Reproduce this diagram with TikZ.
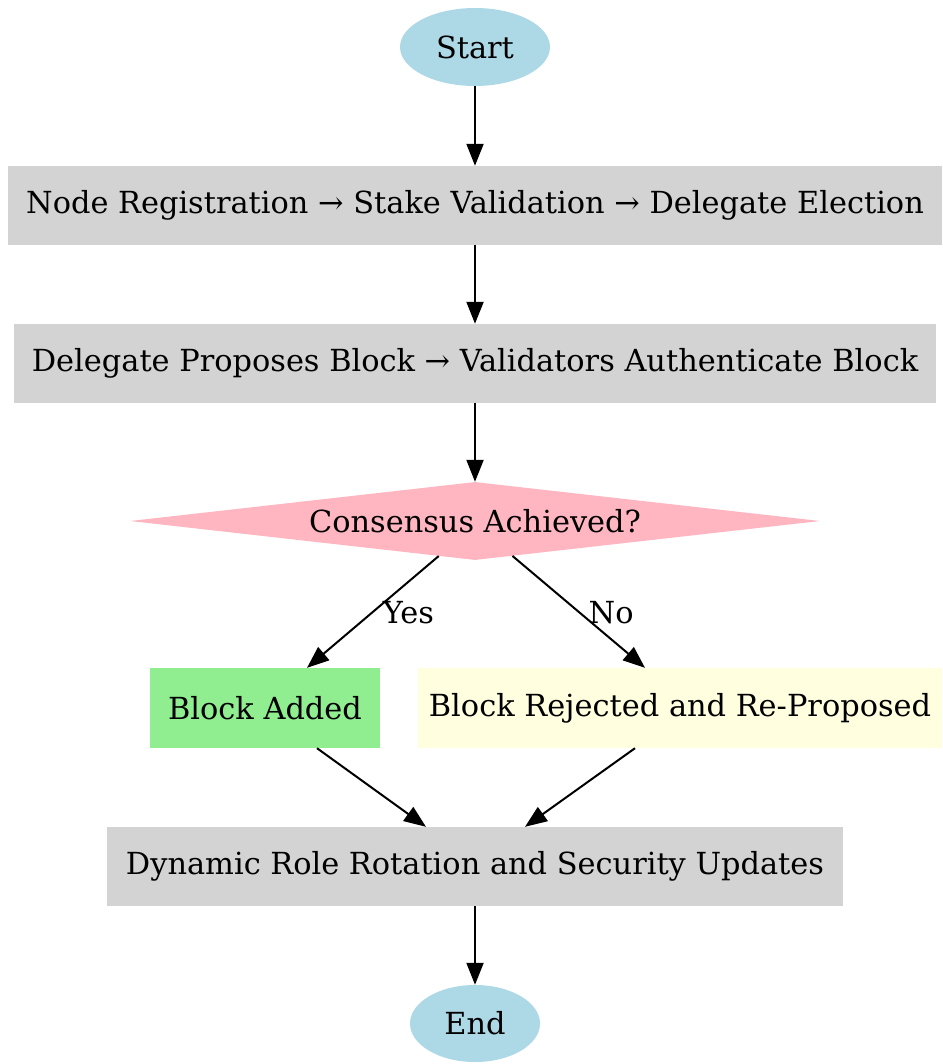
\documentclass[tikz,border=0pt]{standalone}
\usepackage{fontspec}
\setmainfont{DejaVu Serif}
\usetikzlibrary{arrows.meta,shapes.geometric,positioning}

\definecolor{termblue}{RGB}{173,216,230}
\definecolor{procgray}{RGB}{211,211,211}
\definecolor{decpink}{RGB}{255,182,193}
\definecolor{okgreen}{RGB}{144,238,144}
\definecolor{rejyellow}{RGB}{255,255,224}

\begin{document}
\begin{tikzpicture}[x=1pt, y=-1pt,
        every node/.style={font=\fontsize{30.4}{36}\selectfont, inner sep=0pt},
        term/.style={ellipse, fill=termblue},
        proc/.style={rectangle, fill=procgray, minimum height=79pt},
        decision/.style={diamond, fill=decpink, aspect=8.85, minimum width=690pt, minimum height=78pt},
        flow/.style={line width=2pt, -{Triangle[length=22pt, width=17pt]}}]
    \useasboundingbox (0,0) rectangle (942,1064);
    % nodes
    \node [term, minimum width=150pt, minimum height=78pt] (start) at (475,47) {Start};
    \node [proc, minimum width=934pt] (reg) at (475,205.5) {Node Registration → Stake Validation → Delegate Election};
    \node [proc, minimum width=922pt] (prop) at (475,363.5) {Delegate Proposes Block → Validators Authenticate Block};
    \node [decision] (cons) at (475,521) {Consensus Achieved?};
    \node [rectangle, fill=okgreen, minimum width=230pt, minimum height=80pt] (added) at (265,708) {Block Added};
    \node [rectangle, fill=rejyellow, minimum width=524pt, minimum height=80pt] (rejected) at (680,708) {Block Rejected and Re-Proposed};
    \node [proc, minimum width=736pt] (rotate) at (475,866.5) {Dynamic Role Rotation and Security Updates};
    \node [term, minimum width=130pt, minimum height=77pt] (finish) at (475,1023.5) {End};
    % connectors
    \draw [flow] (start) -- (reg);
    \draw [flow] (reg) -- (prop);
    \draw [flow] (prop) -- (cons);
    \draw [flow] (cons.-136.5) -- ([xshift=42pt]added.north)
        node [pos=0.5, right=5pt, yshift=-1pt, inner sep=4pt] (yes) {Yes};
    \draw [flow] (cons.-43.5) -- ([xshift=-35pt]rejected.north)
        node [pos=0.5, right=5pt, yshift=-1pt, inner sep=4pt] (no) {No};
    \draw [flow] ([xshift=52pt]added.south) -- ([xshift=-49pt]rotate.north);
    \draw [flow] ([xshift=-45pt]rejected.south) -- ([xshift=50pt]rotate.north);
    \draw [flow] (rotate) -- (finish);
\end{tikzpicture}
\end{document}
